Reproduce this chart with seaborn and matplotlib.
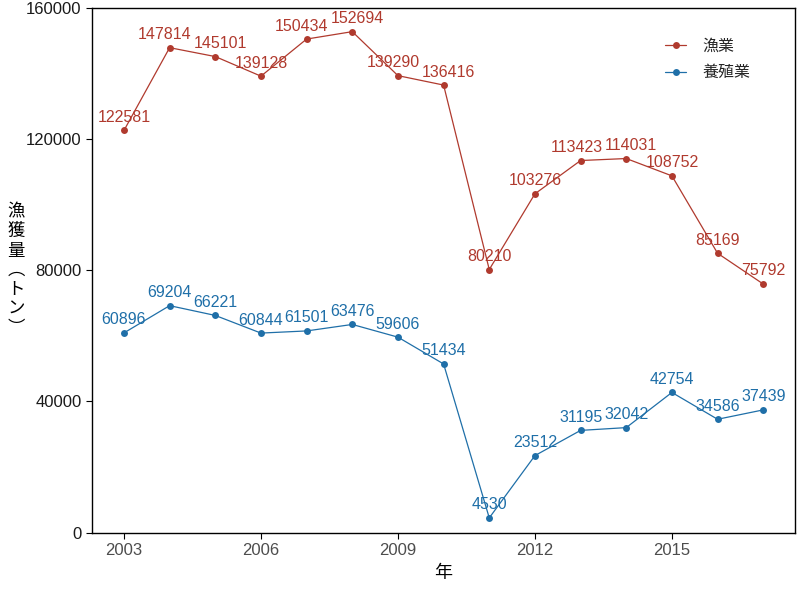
import matplotlib
matplotlib.use("Agg")
import matplotlib.pyplot as plt
import seaborn as sns
import pandas as pd

years = list(range(2003, 2018))
fishery = [122581, 147814, 145101, 139128, 150434, 152694, 139290, 136416,
           80210, 103276, 113423, 114031, 108752, 85169, 75792]
aquaculture = [60896, 69204, 66221, 60844, 61501, 63476, 59606, 51434,
               4530, 23512, 31195, 32042, 42754, 34586, 37439]
series_names = ["漁業", "養殖業"]
colors = ["#B03A2E", "#1F6FA8"]
x_ticks = [2003, 2006, 2009, 2012, 2015]
y_ticks = [0, 40000, 80000, 120000, 160000]

df = pd.concat([
    pd.DataFrame({"年": years, "値": fishery, "種類": series_names[0]}),
    pd.DataFrame({"年": years, "値": aquaculture, "種類": series_names[1]}),
])

sns.set_theme(style="white")
plt.rcParams["font.family"] = ["Liberation Sans", "Noto Sans CJK JP", "DejaVu Sans"]

fig = plt.figure(figsize=(8, 5.9), dpi=100)
ax = fig.add_axes([0.115, 0.097, 0.879, 0.89])

palette = dict(zip(series_names, colors))
sns.lineplot(data=df, x="年", y="値", hue="種類", palette=palette, marker="o",
             markersize=5, markeredgewidth=0, linewidth=0.9, ax=ax)

ax.set_xlim(2002.3, 2017.7)
ax.set_ylim(0, 160000)

texts = []
for name, vals in zip(series_names, [fishery, aquaculture]):
    for x, y in zip(years, vals):
        t = ax.annotate(str(y), (x, y), xytext=(0, 4), textcoords="offset points",
                        ha="center", va="bottom", fontsize=11.5, color=palette[name])
        texts.append(t)

# simple horizontal repel of overlapping labels
fig.canvas.draw()
renderer = fig.canvas.get_renderer()
shifts = [0.0] * len(texts)
for _ in range(30):
    boxes = [t.get_window_extent(renderer) for t in texts]
    moved = False
    for i in range(len(texts)):
        for j in range(i + 1, len(texts)):
            a, b = boxes[i], boxes[j]
            ox = min(a.x1, b.x1) - max(a.x0, b.x0)
            oy = min(a.y1, b.y1) - max(a.y0, b.y0)
            if ox > 0 and oy > 0:
                d = ox / 2 + 1
                if a.x0 <= b.x0:
                    shifts[i] -= d; shifts[j] += d
                else:
                    shifts[i] += d; shifts[j] -= d
                moved = True
    for t, s in zip(texts, shifts):
        t.set_position((s * 72 / fig.dpi, 4))
    if not moved:
        break
    fig.canvas.draw()

ax.set_xticks(x_ticks)
ax.set_yticks(y_ticks)
ax.tick_params(axis="both", direction="out", length=4, width=0.8, colors="black",
               labelsize=12, bottom=True, left=True)
ax.tick_params(axis="x", labelcolor="#4D4D4D")
ax.tick_params(axis="y", labelcolor="#1A1A1A")
for s in ax.spines.values():
    s.set_visible(True)
    s.set_color("black")
    s.set_linewidth(1.0)

ax.set_xlabel("年", fontsize=13, color="black", family=["Noto Sans CJK JP"])
ax.set_ylabel("")
fig.text(16 / 800, 1 - 270 / 590, "漁\n獲\n量\n︵\nト\nン\n︶", fontsize=12.5,
         color="black", family=["Noto Sans CJK JP"], ha="center", va="center",
         linespacing=1.1)

ax.legend(title=None, frameon=False, loc="upper left",
          bbox_to_anchor=(0.795, 0.97),
          prop={"family": ["Noto Sans CJK JP"], "size": 11.5},
          handlelength=1.3, handletextpad=1.0, labelspacing=0.6)

fig.savefig("out.png", dpi=100)
